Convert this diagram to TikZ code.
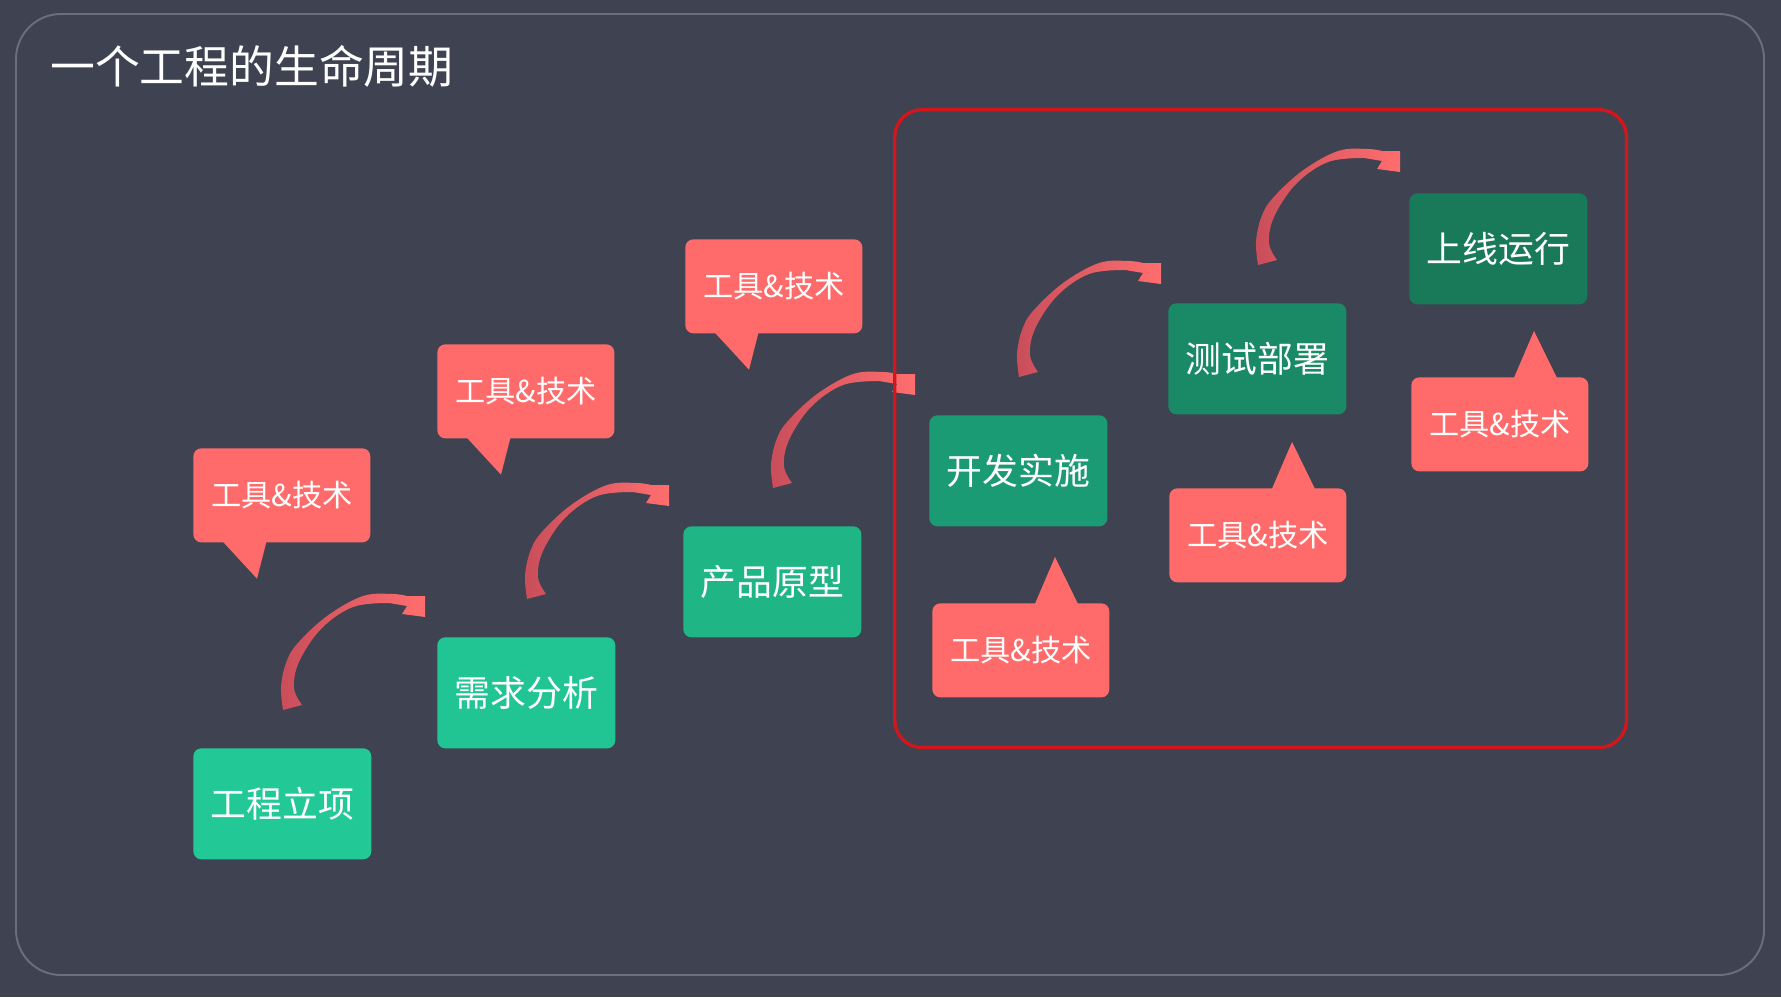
\documentclass[tikz,border=0pt]{standalone}
\usepackage{fontspec}
\setmainfont{Noto Sans CJK SC}
\definecolor{bg}{HTML}{3F4250}
\definecolor{bordergray}{HTML}{6C6F7A}
\definecolor{frame}{HTML}{D3161C}
\definecolor{callred}{HTML}{FF6B6B}
\definecolor{arrdark}{HTML}{C94E5A}
\definecolor{arrlight}{HTML}{FF6E6E}
\definecolor{ga}{HTML}{22C896}
\definecolor{gb}{HTML}{21C594}
\definecolor{gc}{HTML}{1FB585}
\definecolor{gd}{HTML}{1B9B74}
\definecolor{ge}{HTML}{198A65}
\definecolor{gf}{HTML}{187A58}
\newcommand\lifearrow[1]{%
  \begin{scope}[shift={(#1.north west)}]
    \shade[left color=arrdark, right color=arrlight]
      plot[smooth, tension=0.6] coordinates {(90,-38) (88,-61) (93,-85) (104,-104) (134,-132) (170,-152) (200,-154) (214,-152)}
      -- (232,-152) -- (232,-131) -- (209,-134) -- (214,-142)
      -- plot[smooth, tension=0.6] coordinates {(196,-145) (160,-141) (128,-119) (106,-86) (101,-60) (109,-43)}
      -- cycle;
  \end{scope}}
\newcommand\pointdown[1]{%
  \begin{scope}[shift={(#1.south west)}]
    \fill[callred] (28,-3) -- (64,36) -- (74,-3) -- cycle;
  \end{scope}}
\newcommand\pointup[1]{%
  \begin{scope}[shift={(#1.north west)}]
    \fill[callred] (102,3) -- (123,-46) -- (147,3) -- cycle;
  \end{scope}}
\begin{document}
\begin{tikzpicture}[x=0.02cm,y=-0.02cm,
  greenbox/.style={anchor=north west, minimum width=3.56cm, minimum height=2.22cm, inner sep=0pt, rounded corners=0.16cm, text=white, font=\fontsize{20.4pt}{24pt}\selectfont},
  callbox/.style={anchor=north west, fill=callred, minimum width=3.54cm, minimum height=1.88cm, inner sep=0pt, rounded corners=0.16cm, text=white, font=\fontsize{17.2pt}{20pt}\selectfont}]
\fill[bg] (0,0) rectangle (1781,997);
\useasboundingbox (0,0) rectangle (1781,997);
\draw[bordergray, line width=1.1pt, rounded corners=0.9cm] (16,14) rectangle (1764,975);
\node[anchor=west, text=white, font=\fontsize{25.5pt}{30pt}\selectfont, inner sep=0pt] (title) at (50,66) {一个工程的生命周期};
% green steps
\node[greenbox, fill=ga] (b1) at (193,748) {工程立项};
\node[greenbox, fill=gb] (b2) at (437,637) {需求分析};
\node[greenbox, fill=gc] (b3) at (683,526) {产品原型};
\node[greenbox, fill=gd] (b4) at (929,415) {开发实施};
\node[greenbox, fill=ge] (b5) at (1168,303) {测试部署};
\node[greenbox, fill=gf] (b6) at (1409,193) {上线运行};
% callouts
\node[callbox] (c1) at (193,448) {工具\&技术};
\node[callbox] (c2) at (437,344) {工具\&技术};
\node[callbox] (c3) at (685,239) {工具\&技术};
\node[callbox] (c4) at (932,603) {工具\&技术};
\node[callbox] (c5) at (1169,488) {工具\&技术};
\node[callbox] (c6) at (1411,377) {工具\&技术};
\pointdown{c1}
\pointdown{c2}
\pointdown{c3}
\pointup{c4}
\pointup{c5}
\pointup{c6}
% curved arrows
\lifearrow{b1}
\lifearrow{b2}
\lifearrow{b3}
\lifearrow{b4}
\lifearrow{b5}
% red frame
\node[draw=frame, line width=1.9pt, rounded corners=0.55cm, anchor=north west, minimum width=14.64cm, minimum height=12.76cm, inner sep=0pt] (frm) at (893,108) {};
\end{tikzpicture}
\end{document}
